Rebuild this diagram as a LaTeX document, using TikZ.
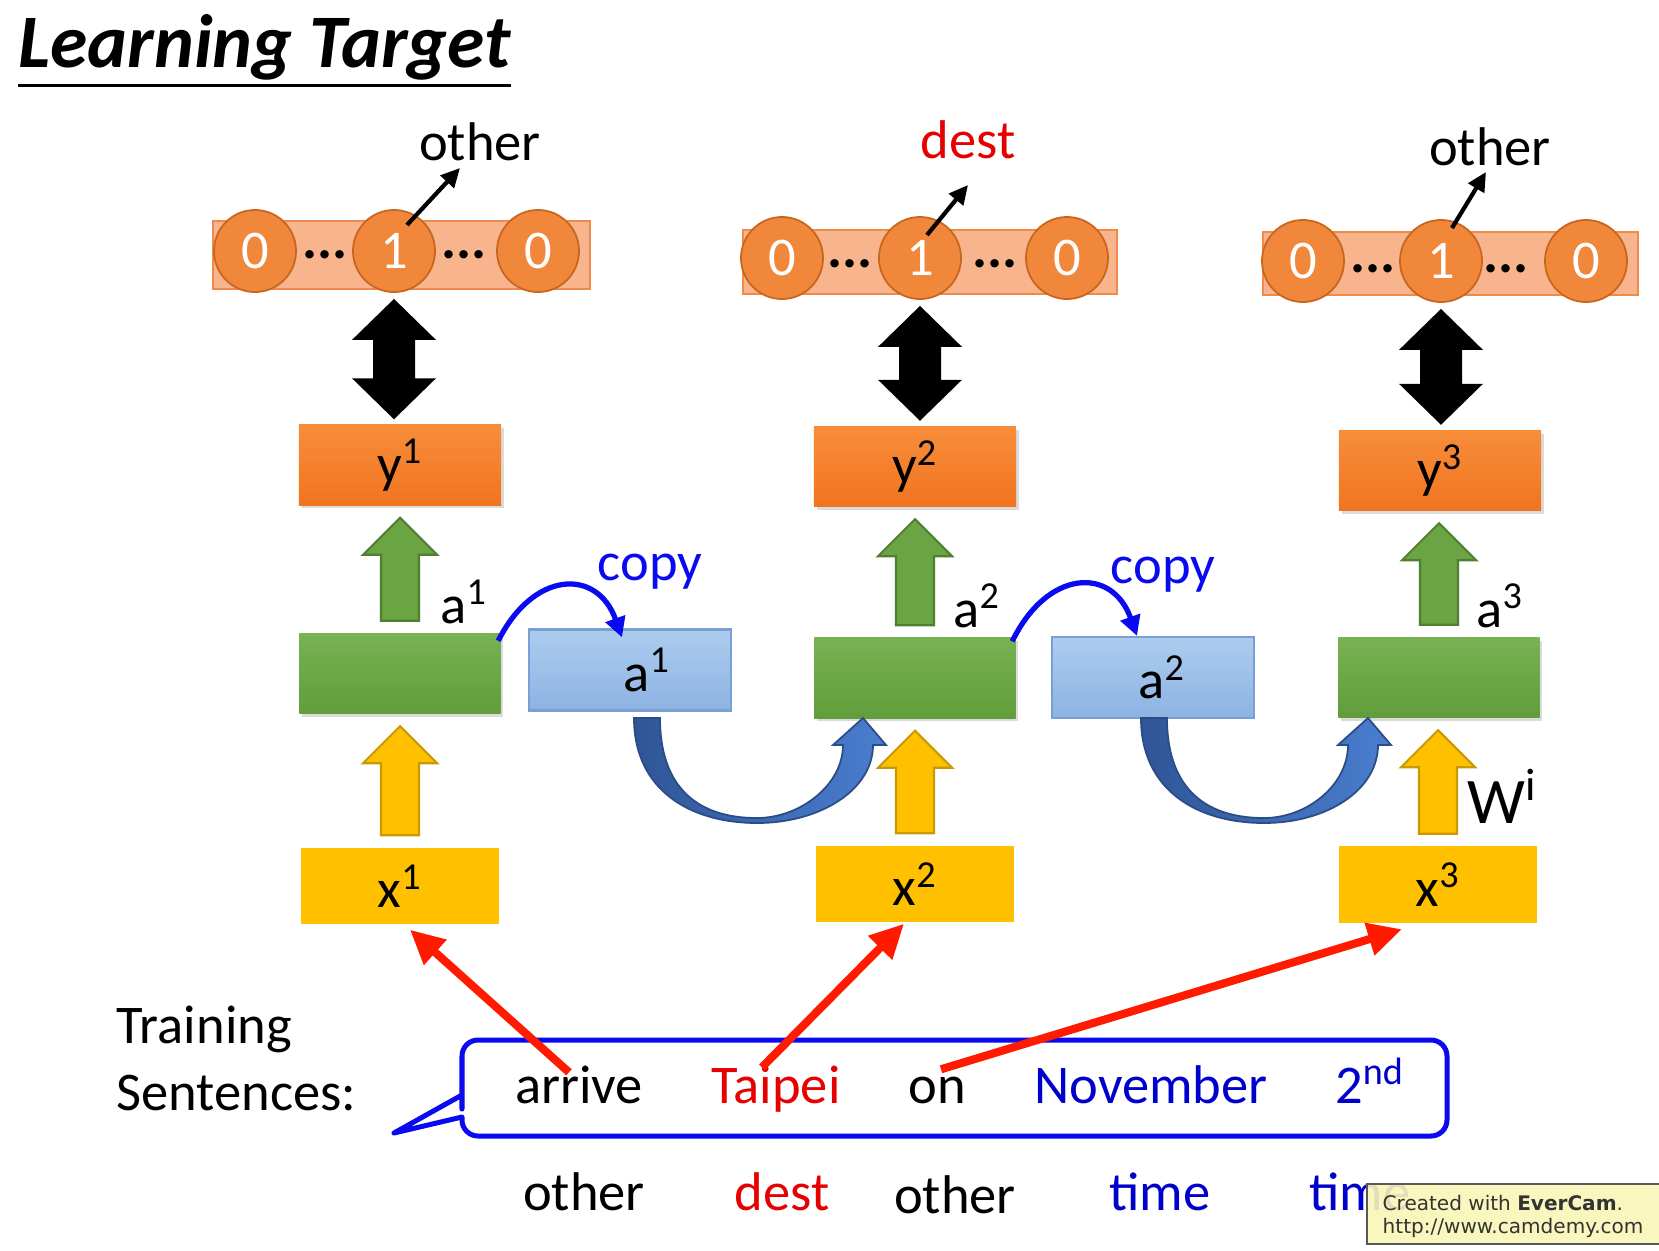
\documentclass[tikz,border=0pt]{standalone}
\usepackage{fontspec}
\setmainfont{Carlito}
\newfontfamily\wmfont{DejaVu Sans}
\usetikzlibrary{calc,arrows.meta,shadows}

\definecolor{circOr}{HTML}{F0873A}
\definecolor{circBd}{HTML}{C8661E}
\definecolor{barFill}{HTML}{F8B48C}
\definecolor{barBd}{HTML}{EE8A4A}
\definecolor{yTop}{HTML}{F78D3A}
\definecolor{yBot}{HTML}{F17420}
\definecolor{gTop}{HTML}{78B252}
\definecolor{gBot}{HTML}{619D3B}
\definecolor{gArr}{HTML}{6AA443}
\definecolor{gArrBd}{HTML}{4F7F30}
\definecolor{bTop}{HTML}{ADCCEF}
\definecolor{bBot}{HTML}{8DB3E2}
\definecolor{bBd}{HTML}{7A9FD4}
\definecolor{yel}{HTML}{FFC000}
\definecolor{yelBd}{HTML}{C99A00}
\definecolor{cvL}{HTML}{2F5597}
\definecolor{cvR}{HTML}{4A7ECF}
\definecolor{cvBd}{HTML}{2B4C86}
\definecolor{copyBlue}{HTML}{0A0AF0}
\definecolor{txtBlue}{HTML}{0000CC}
\definecolor{txtRed}{HTML}{E60000}
\definecolor{arrRed}{HTML}{FF1A00}
\definecolor{bubBlue}{HTML}{0A0AF0}
\definecolor{wmFill}{HTML}{FAF7B8}

\tikzset{
  txt/.style={font=\fontsize{15.5}{18}\selectfont, inner sep=0pt},
  lbl/.style={txt, anchor=base},
  word/.style={txt, anchor=base, text height=0.35cm, text depth=0.1cm},
  shad/.style={drop shadow={opacity=0.28, shadow xshift=0.8pt, shadow yshift=-0.9pt}},
  ybox/.style={txt, minimum width=2.02cm, minimum height=0.80cm, top color=yTop, bottom color=yBot, shad},
  gbox/.style={txt, minimum width=2.01cm, minimum height=0.80cm, top color=gTop, bottom color=gBot, shad},
  bbox/.style={txt, minimum width=2.02cm, minimum height=0.81cm, top color=bTop, bottom color=bBot, draw=bBd, line width=0.6pt},
  xbox/.style={txt, minimum width=1.97cm, minimum height=0.76cm, fill=yel},
  barbox/.style={fill=barFill, draw=barBd, line width=0.5pt, inner sep=0pt},
  circ/.style={circle, minimum size=0.82cm, inner sep=0pt, fill=circOr, draw=circBd, line width=0.5pt, text=white, font=\fontsize{15.5}{18}\selectfont},
  dotlbl/.style={anchor=base, inner sep=0pt, font=\fontsize{16}{18}\selectfont\bfseries},
  smallarr/.style={-{Triangle[length=0.19cm,width=0.18cm]}, line width=1.2pt},
  copyarr/.style={-{Triangle[length=0.2cm,width=0.2cm]}, line width=1.5pt, draw=copyBlue},
  redarr/.style={-{Triangle[length=0.34cm,width=0.32cm]}, line width=2.3pt, draw=arrRed},
}

\newcommand\UpBlock[4]{%
  \draw[fill=#3, draw=#4, line width=0.6pt]
    ($(#1.north)+(-19,-12)$) -- ($(#1.north |- #2.south)+(-19,49)$)
    -- ($(#1.north |- #2.south)+(-37,49)$) -- ($(#1.north |- #2.south)+(0,12)$)
    -- ($(#1.north |- #2.south)+(37,49)$) -- ($(#1.north |- #2.south)+(19,49)$)
    -- ($(#1.north)+(19,-12)$) -- cycle;}

\newcommand\DblBlock[2]{%
  \fill[black]
    ($(#1.south)+(0,6)$) -- ($(#1.south)+(42,47)$) -- ($(#1.south)+(21,47)$)
    -- ($(#1.south |- #2.north)+(21,-46)$) -- ($(#1.south |- #2.north)+(42,-46)$)
    -- ($(#1.south |- #2.north)+(0,-5)$) -- ($(#1.south |- #2.north)+(-42,-46)$)
    -- ($(#1.south |- #2.north)+(-21,-46)$) -- ($(#1.south)+(-21,47)$)
    -- ($(#1.south)+(-42,47)$) -- cycle;}

\newcommand\CurvBlock[2]{%
  \path[left color=cvL, right color=cvR, draw=cvBd, line width=0.5pt]
    (#1) .. controls ($(#1)+(0,72)$) and ($(#1)+(56,105)$) .. ($(#1)+(123,105)$)
    .. controls ($(#1)+(186,105)$) and ($(#2)+(10,72)$) .. ($(#2)+(10,27)$)
    -- ($(#2)+(23,27)$) -- (#2) -- ($(#2)+(-30,27)$) -- ($(#2)+(-20,27)$)
    .. controls ($(#2)+(-20,67)$) and ($(#1)+(166,100)$) .. ($(#1)+(123,100)$)
    .. controls ($(#1)+(61,100)$) and ($(#1)+(26,67)$) .. ($(#1)+(26,0)$) -- cycle;}

\begin{document}
\begin{tikzpicture}[x=0.01cm, y=-0.01cm]
\useasboundingbox (0,0) rectangle (1659,1250);
\fill[white] (0,0) rectangle (1659,1250);

% title
\node[anchor=base west, inner sep=0pt, font=\fontsize{21.5}{24}\selectfont\bfseries\itshape] (title) at (18,67) {Learning Target};
\draw[line width=0.03cm] ($(title.base west)+(0,18)$) -- ($(title.base east)+(0,18)$);

% one-hot bars
\node[barbox, minimum width=3.77cm, minimum height=0.68cm] (bar1) at (401.5,255) {};
\node[barbox, minimum width=3.74cm, minimum height=0.64cm] (bar2) at (930,262) {};
\node[barbox, minimum width=3.75cm, minimum height=0.63cm] (bar3) at (1450.5,263.5) {};

\node[circ] (c11) at (255,251) {0};
\node[circ] (c12) at (394,251) {1};
\node[circ] (c13) at (538,251) {0};
\node[circ] (c21) at (782,258) {0};
\node[circ] (c22) at (920,258) {1};
\node[circ] (c23) at (1067,258) {0};
\node[circ] (c31) at (1303,261) {0};
\node[circ] (c32) at (1441,261) {1};
\node[circ] (c33) at (1586,261) {0};

\node[dotlbl] (d11) at (325,258.5) {...};
\node[dotlbl] (d12) at (464,258.5) {...};
\node[dotlbl] (d21) at (850,267.5) {...};
\node[dotlbl] (d22) at (995,267.5) {...};
\node[dotlbl] (d31) at (1373,272) {...};
\node[dotlbl] (d32) at (1506,272) {...};

% top labels
\node[lbl] (o1) at (480,160) {other};
\node[lbl, text=txtRed] (o2) at (968,158) {dest};
\node[lbl] (o3) at (1490,165) {other};

\coordinate (s1a) at (407,225); \coordinate (s1b) at (460,168);
\coordinate (s2a) at (927,235); \coordinate (s2b) at (968,185);
\coordinate (s3a) at (1452,228); \coordinate (s3b) at (1486,172);
\draw[smallarr] (s1a) -- (s1b);
\draw[smallarr] (s2a) -- (s2b);
\draw[smallarr] (s3a) -- (s3b);

% boxes
\node[ybox] (y1) at (400,465) {y\textsuperscript{1}};
\node[ybox] (y2) at (915,466.5) {y\textsuperscript{2}};
\node[ybox] (y3) at (1440,470.5) {y\textsuperscript{3}};

\node[gbox] (g1) at (400,673.5) {};
\node[gbox] (g2) at (915,678) {};
\node[gbox] (g3) at (1439,677.5) {};

\node[bbox] (b1) at (630,670) {\hspace*{0.34cm}a\textsuperscript{1}};
\node[bbox] (b2) at (1153,677.5) {\hspace*{0.18cm}a\textsuperscript{2}};

\node[xbox] (x1) at (400,886) {x\textsuperscript{1}};
\node[xbox] (x2) at (915,884) {x\textsuperscript{2}};
\node[xbox] (x3) at (1438,884.5) {x\textsuperscript{3}};

% double arrows
\DblBlock{c12}{y1}
\DblBlock{c22}{y2}
\DblBlock{c32}{y3}

% up arrows
\UpBlock{g1}{y1}{gArr}{gArrBd}
\UpBlock{g2}{y2}{gArr}{gArrBd}
\UpBlock{g3}{y3}{gArr}{gArrBd}
\UpBlock{x1}{g1}{yel}{yelBd}
\UpBlock{x2}{g2}{yel}{yelBd}
\UpBlock{x3}{g3}{yel}{yelBd}

% labels near arrows
\node[lbl] (la1) at (464,623) {a\textsuperscript{1}};
\node[lbl] (la2) at (977,627) {a\textsuperscript{2}};
\node[lbl] (la3) at (1500,627) {a\textsuperscript{3}};
\node[anchor=base, inner sep=0pt, font=\fontsize{18.5}{20}\selectfont] (wi) at (1503,823) {W\textsuperscript{i}};

% copy arrows
\draw[copyarr] ($(g1.north east)+(-3,8)$) .. controls +(35,-70) and +(-25,-70) .. ($(b1.north)+(-8,9)$);
\draw[copyarr] ($(g2.north east)+(-4,4)$) .. controls +(35,-72) and +(-25,-70) .. ($(b2.north)+(-16,0)$);
\node[lbl, text=copyBlue] (cp1) at (650,580) {copy};
\node[lbl, text=copyBlue] (cp2) at (1163,583) {copy};

% curved block arrows
\coordinate (cv1s) at (634,718); \coordinate (cv1t) at (863,718);
\coordinate (cv2s) at (1141,718); \coordinate (cv2t) at (1368,718);
\CurvBlock{cv1s}{cv1t}
\CurvBlock{cv2s}{cv2t}

% training sentences
\node[anchor=base west, txt] (tr1) at (116,1043) {Training};
\node[anchor=base west, txt] (tr2) at (116,1110) {Sentences:};

\draw[draw=bubBlue, line width=0.05cm, line join=round]
  (462,1117) -- (462,1119) [rounded corners=0.16cm] -- (462,1136) -- (1447,1136)
  -- (1447,1040) -- (462,1040) -- (462,1093) [sharp corners] -- (462,1095)
  -- (394,1133) -- cycle;

\node[word] (w1) at (579,1103) {arrive};
\node[word, text=txtRed] (w2) at (776,1103) {Taipei};
\node[word] (w3) at (937,1103) {on};
\node[word, text=txtBlue] (w4) at (1151,1103) {November};
\node[word, text=txtBlue] (w5) at (1370,1103) {2\textsuperscript{nd}};

\node[lbl] (t1) at (584,1210) {other};
\node[lbl, text=txtRed] (t2) at (782,1210) {dest};
\node[lbl] (t3) at (955,1213) {other};
\node[lbl, text=txtBlue] (t4) at (1160,1210) {time};
\node[lbl, text=txtBlue] (t5) at (1360,1210) {time};

% red arrows
\draw[redarr] ($(w1.north)+(-10,5)$) -- ($(x1.south)+(10,5)$);
\draw[redarr] ($(w2.north)+(-14,0)$) -- ($(x2.south)+(-11,1)$);
\draw[redarr] ($(w3.north)+(4,2)$) -- ($(x3.south)+(-36,6)$);

% watermark
\fill[wmFill, fill opacity=0.9] (1367,1184) rectangle (1680,1244);
\draw[gray!70!black, line width=0.6pt] (1680,1184) -- (1367,1184) -- (1367,1244) -- (1680,1244);
\node[anchor=base west, inner sep=0pt, text=black!80, font=\wmfont\fontsize{5.7}{7}\selectfont] (wm1) at (1382,1210) {Created with \textbf{EverCam}.};
\node[anchor=base west, inner sep=0pt, text=black!80, font=\wmfont\fontsize{5.7}{7}\selectfont] (wm2) at (1382,1233) {http://www.camdemy.com};
\end{tikzpicture}
\end{document}
